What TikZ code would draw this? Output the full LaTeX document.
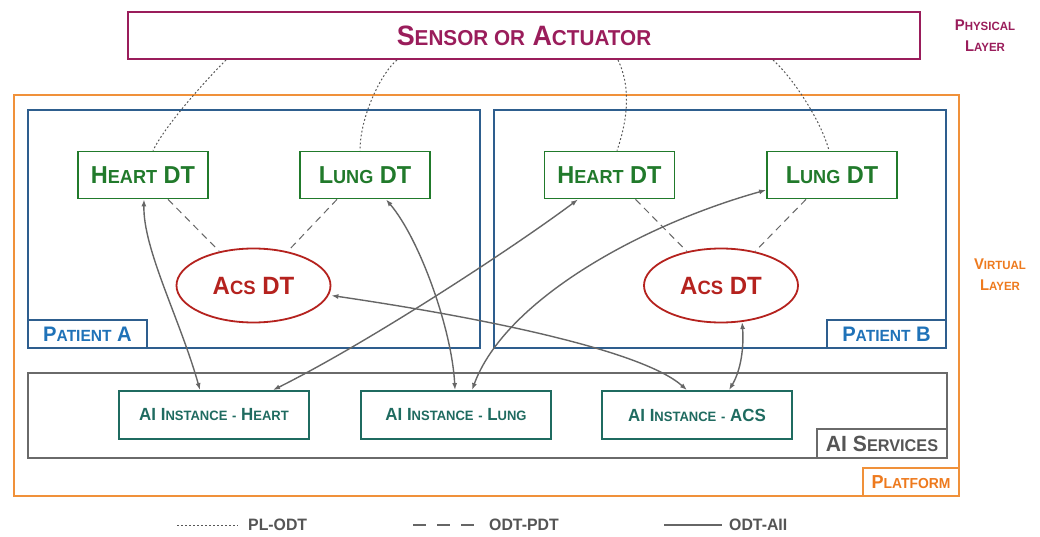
\documentclass[tikz,border=0pt]{standalone}
\usepackage{fontspec}
\setmainfont{Liberation Sans}[FakeStretch=0.96]
\usepackage{graphicx}
\usetikzlibrary{shapes.geometric,arrows.meta}

\definecolor{physcol}{HTML}{9A1D5B}
\definecolor{platcol}{HTML}{F0913A}
\definecolor{plattext}{HTML}{EE7A1E}
\definecolor{patcol}{HTML}{2E5E8E}
\definecolor{pattext}{HTML}{1F72B8}
\definecolor{dtgreen}{HTML}{217A2B}
\definecolor{acsred}{HTML}{B5221E}
\definecolor{aiteal}{HTML}{1F6B60}
\definecolor{svcgray}{HTML}{6A6A6A}
\definecolor{svctext}{HTML}{555555}
\definecolor{linkgray}{HTML}{666666}

% fake small capitals: reduced upper-case letters on the baseline
\newcommand\sm[1]{\scalebox{0.77}{#1}}

\tikzset{
  frame/.style={draw, inner sep=0pt},
  dtbox/.style={frame, draw=dtgreen, line width=1.8pt, text=dtgreen,
    minimum width=130pt, minimum height=47pt,
    font=\fontsize{24.5}{28}\selectfont\bfseries},
  acsnode/.style={ellipse, draw=acsred, line width=1.8pt, text=acsred, inner sep=0pt,
    minimum width=154pt, minimum height=74pt,
    font=\fontsize{25}{28}\selectfont\bfseries},
  aibox/.style={frame, draw=aiteal, line width=1.8pt, text=aiteal,
    minimum width=190pt, minimum height=48pt,
    font=\fontsize{17.6}{20}\selectfont\bfseries},
  patframe/.style={frame, draw=patcol, line width=1.8pt,
    minimum width=452pt, minimum height=238pt},
  pattag/.style={frame, draw=patcol, line width=1.8pt, text=pattext,
    minimum width=119pt, minimum height=28pt,
    font=\fontsize{21}{24}\selectfont\bfseries},
  layertext/.style={align=center, font=\fontsize{15.5}{21}\selectfont\bfseries},
  link/.style={draw=linkgray, line width=1.4pt,
    {Latex[length=7pt,width=5pt]}-{Latex[length=7pt,width=5pt]}},
  pdt/.style={draw=linkgray, line width=1pt, dash pattern=on 7pt off 5pt},
  plodt/.style={draw=linkgray!85!black, line width=1pt, dash pattern=on 1.8pt off 2.2pt},
  legtext/.style={anchor=west, text=svctext, inner sep=0pt,
    font=\fontsize{16.5}{18}\selectfont\bfseries},
}

\begin{document}
\begin{tikzpicture}[x=1pt, y=-1pt]
\useasboundingbox (0,0) rectangle (1040,537);
\fill[white] (0,0) rectangle (1040,537);

% physical layer
\node[frame, draw=physcol, line width=2pt, text=physcol,
      minimum width=792pt, minimum height=47pt,
      font=\fontsize{28}{32}\selectfont\bfseries]
  (sensor) at (524,35.5) {S\sm{ENSOR OR} A\sm{CTUATOR}};
\node[layertext, text=physcol] (physlabel) at (985,35.5)
  {P\sm{HYSICAL}\\L\sm{AYER}};

% platform
\node[frame, draw=platcol, line width=1.3pt,
      minimum width=945pt, minimum height=401pt] (platform) at (486.5,295.5) {};
\node[frame, draw=platcol, line width=1.3pt, text=plattext,
      minimum width=96pt, minimum height=28pt, anchor=south east,
      font=\fontsize{18.8}{22}\selectfont\bfseries]
  (platlabel) at (platform.south east) {P\sm{LATFORM}};
\node[layertext, text=plattext] (virtlabel) at (1000,274.5)
  {V\sm{IRTUAL}\\L\sm{AYER}};

% patients
\node[patframe] (patA) at (254,229) {};
\node[patframe] (patB) at (720,229) {};
\node[pattag, anchor=south west] (patAlabel) at (patA.south west) {P\sm{ATIENT} A};
\node[pattag, anchor=south east] (patBlabel) at (patB.south east) {P\sm{ATIENT} B};

\node[dtbox] (heartA) at (143,175) {H\sm{EART} DT};
\node[dtbox] (lungA)  at (365,175) {L\sm{UNG} DT};
\node[acsnode] (acsA) at (253.5,285.5) {A\sm{CS} DT};

\node[dtbox] (heartB) at (609.5,175) {H\sm{EART} DT};
\node[dtbox] (lungB)  at (832,175) {L\sm{UNG} DT};
\node[acsnode] (acsB) at (721,285.5) {A\sm{CS} DT};

% AI services
\node[frame, draw=svcgray, line width=1.8pt,
      minimum width=919pt, minimum height=85pt] (ai) at (487.5,415.5) {};
\node[frame, draw=svcgray, line width=1.8pt, text=svctext,
      minimum width=130pt, minimum height=29pt, anchor=south east,
      font=\fontsize{22}{24}\selectfont\bfseries]
  (ailabel) at (ai.south east) {AI S\sm{ERVICES}};

\node[aibox] (aiH) at (214,415) {AI I\sm{NSTANCE}~\sm{-}~H\sm{EART}};
\node[aibox] (aiL) at (456,415) {AI I\sm{NSTANCE}~\sm{-}~L\sm{UNG}};
\node[aibox] (aiA) at (697,415) {AI I\sm{NSTANCE}~\sm{-}~ACS};

% physical layer to digital twins
\draw[plodt] ([xshift=-298pt]sensor.south) .. controls +(-20,20) and +(12,-25) .. ([xshift=10pt]heartA.north);
\draw[plodt] ([xshift=-127pt]sensor.south) .. controls +(-15,12) and +(0,-35) .. ([xshift=-5pt]lungA.north);
\draw[plodt] ([xshift=94pt]sensor.south) .. controls +(12,25) and +(12,-35) .. ([xshift=7.5pt]heartB.north);
\draw[plodt] ([xshift=249pt]sensor.south) .. controls +(20,18) and +(-8,-30) .. ([xshift=-3pt]lungB.north);

% organ twins to patient twin
\draw[pdt] ([xshift=25pt]heartA.south) -- (acsA.135);
\draw[pdt] ([xshift=-28pt]lungA.south) -- (acsA.45);
\draw[pdt] ([xshift=26pt]heartB.south) -- (acsB.135);
\draw[pdt] ([xshift=-26pt]lungB.south) -- (acsB.45);

% twins to AI instances
\draw[link] ([xshift=-14pt]aiH.north) .. controls +(-20,-71) and +(-1,50) .. ([xshift=1pt]heartA.south);
\draw[link] ([xshift=-1pt]aiL.north) .. controls +(-3,-60) and +(34,40) .. ([xshift=21pt]lungA.south);
\draw[link] ([xshift=59pt]aiH.north) .. controls +(100,-50) and +(-60,45) .. ([xshift=-31.5pt]heartB.south);
\draw[link] ([xshift=16pt]aiL.north) .. controls +(33,-90) and +(-125,35) .. ([yshift=-15pt]lungB.west);
\draw[link] ([yshift=-10pt]acsA.east) .. controls +(150,22) and +(-45,-40) .. ([xshift=-10pt]aiA.north);
\draw[link] ([xshift=32pt]aiA.north) .. controls +(12,-20) and +(2,25) .. (acsB.-60);

% legend
\coordinate (l1a) at (177,525);
\coordinate (l1b) at (238,525);
\draw[plodt] (l1a) -- (l1b);
\node[legtext] (leg1) at (248,525) {PL-ODT};
\coordinate (l2a) at (413,525);
\coordinate (l2b) at (474,525);
\draw[linkgray, line width=1.4pt, dash pattern=on 13pt off 11pt] (l2a) -- (l2b);
\node[legtext] (leg2) at (489,525) {ODT-PDT};
\coordinate (l3a) at (664,525);
\coordinate (l3b) at (722,525);
\draw[linkgray, line width=1.6pt] (l3a) -- (l3b);
\node[legtext] (leg3) at (729,525) {ODT-AII};
\end{tikzpicture}
\end{document}
